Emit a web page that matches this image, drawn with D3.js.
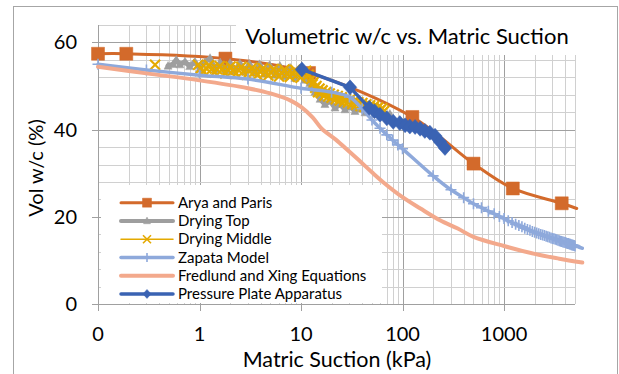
<!DOCTYPE html>
<html>
<head>
<meta charset="utf-8">
<script src="https://cdn.jsdelivr.net/npm/d3@7"></script>
<style>
  body { margin: 0; background: #fff; }
  svg { display: block; }
  text { font-family: Lato, "Open Sans", sans-serif; fill: #000; }
</style>
</head>
<body>
<div id="chart"></div>
<script>
// ---- data (kPa / vol w/c %) ----
const seriesNames = ["Arya and Paris", "Drying Top", "Drying Middle", "Zapata Model",
  "Fredlund and Xing Equations", "Pressure Plate Apparatus"];

const aryaKpa = [0.1, 0.19, 1.8, 12, 125, 500, 1220, 3700, 5200];
const aryaWc  = [57.4, 57.4, 56.3, 53.0, 42.9, 32.2, 26.5, 23.1, 21.9];

const dryTopKpa = [0.49, 0.55, 0.59, 0.64, 0.72, 0.8, 0.9, 1.0, 1.13, 1.27, 1.42, 1.6, 1.8, 2.0,
  2.2, 2.5, 2.8, 3.1, 3.5, 3.9, 4.4, 4.9, 5.5, 6.2, 6.9, 7.8, 8.7, 9.8, 10.9, 12.2, 13.7, 15.4,
  17.2, 19.3, 21.6, 24.2, 27.1, 30.4, 34, 38, 42.7, 47.8, 53.5, 59.9, 67, 75];
const dryTopWc = [54.6, 55.0, 56.0, 54.9, 55.6, 54.5, 55.6, 53.9, 55.5, 56.4, 53.8, 55.4, 53.6, 55.3,
  53.4, 55.2, 53.2, 55.1, 53.0, 55.0, 52.8, 54.8, 52.5, 54.6, 52.2, 54.2, 51.8, 53.5, 51.4, 50.6, 48.6, 47.0,
  45.8, 46.6, 45.0, 45.8, 44.6, 45.3, 44.2, 44.9, 43.9, 44.5, 43.5, 44.1, 43.2, 43.6];

const dryMidKpa = [0.365, 0.6,
  0.97, 1.03, 1.10, 1.17, 1.24, 1.32, 1.40, 1.49, 1.58, 1.68, 1.79, 1.90, 2.02, 2.15, 2.28, 2.43,
  2.58, 2.74, 2.92, 3.10, 3.30, 3.50, 3.72, 3.96, 4.21, 4.47, 4.75, 5.05, 5.37, 5.71, 6.07, 6.45,
  6.86, 7.29, 7.75, 8.24, 8.76, 9.31, 9.90, 10.5, 11.2, 11.9,
  12.6, 13.0, 13.4, 13.8, 14.2, 14.7, 15.2, 15.7, 16.3, 17, 17.7, 18.5, 19.2, 20, 21, 22, 23, 24,
  25.2, 26.5, 27.7, 29, 30.5, 32, 33.5, 35, 36.7, 38.5, 40.2, 42, 44, 46, 48, 50, 52.5, 55, 57.5, 60, 63, 66];
const dryMidWc = [54.9, null,
  54.9, 54.1, 53.2, 54.0, 54.8, 53.9, 53.1, 53.85, 54.6, 53.8, 52.9, 53.7, 54.5, 53.6, 52.8, 53.6,
  54.4, 53.5, 52.6, 53.4, 54.2, 53.4, 52.5, 53.3, 54.1, 53.2, 52.4, 53.1, 53.9, 53.1, 52.2, 53.0,
  53.8, 52.9, 52.1, 52.9, 53.7, 52.8, 51.9, 52.7, 53.5, 52.6,
  51.6, 50.4, 51.0, 49.6, 50.0, 48.6, 49.4, 48.4, 49.0, 47.8, 48.6, 47.6, 48.3, 47.3, 48.0, 47.0,
  47.7, 46.7, 47.4, 46.4, 47.1, 46.2, 46.9, 45.9, 46.6, 45.7, 46.3, 45.4, 46.1, 45.2, 45.8, 45.0,
  45.6, 44.8, 45.4, 44.6, 45.1, 44.4, 44.9, 44.3];

const zapataKpa = [0.1, 0.3, 1, 3, 10, 20, 30, 40, 50, 60, 70, 80, 90,
  100, 200, 300, 400, 500, 600, 700, 800, 900, 1000, 1100, 1200, 1300, 1400, 1500, 1600, 1700, 1800,
  1900, 2000, 2100, 2200, 2300, 2400, 2500, 2600, 2700, 2800, 2900, 3000, 3100, 3200, 3300, 3400,
  3500, 3600, 3700, 3800, 3900, 4000, 4100, 4200, 4300, 4400, 4500, 4600, 4700, 4800, 4900, 5000,
  5100, 5200, 5300, 5400, 5500, 5600, 5700, 5800, 5900];
const zapataWc = [55.0, 53.7, 52.5, 51.6, 49.5, 48.6, 47.5, 44.8, 42.2, 40.3, 38.8, 37.6, 36.5,
  35.6, 29.4, 26.2, 24.4, 23.0, 22.1, 21.3, 20.7, 20.1, 19.6, 19.1, 18.7, 18.3, 18.0, 17.7, 17.4, 17.1, 16.9,
  16.65, 16.45, 16.3, 16.1, 15.95, 15.8, 15.7, 15.55, 15.4, 15.3, 15.15, 15.05, 14.95, 14.85, 14.75, 14.6,
  14.5, 14.4, 14.35, 14.25, 14.15, 14.1, 14.0, 13.9, 13.85, 13.75, 13.7, 13.6, 13.55, 13.45, 13.4, 13.3,
  13.25, 13.2, 13.15, 13.1, 13.0, 12.95, 12.9, 12.85, 12.8];

const fredlundKpa = [0.1, 0.3, 1, 3, 5, 8, 10, 13, 16, 22, 30, 40, 50, 64, 100, 150, 234, 350, 500,
  1000, 2000, 3500, 5900];
const fredlundWc = [54.4, 52.9, 51.3, 49.5, 48.3, 46.6, 45.2, 42.8, 40.2, 37.7, 34.9, 32.3, 30.2, 28.0,
  24.5, 21.9, 19.2, 17.3, 15.4, 13.3, 11.5, 10.4, 9.5];

const plateKpa = [10.2, 30.4, 47, 53, 60, 70, 81, 94, 106, 118, 133, 149, 166, 186, 209, 234, 262];
const plateWc  = [53.8, 49.7, 45.0, 44.2, 43.4, 42.6, 41.8, 41.5, 41.0, 40.7, 40.6, 40.2, 39.7, 39.3,
  38.6, 37.2, 35.8];

const xTickValues = [0.1, 1, 10, 100, 1000];
const xTickLabels = ["0", "1", "10", "100", "1000"];
const yTickValues = [0, 20, 40, 60];

// ---- layout ----
const width = 619, height = 374;
const plot = { left: 98, right: 575, top: 25, bottom: 304 };
const colors = ["#D36A2B", "#9E9E9E", "#E4A900", "#8EA9DB", "#F3A98C", "#3A63B3"];

const x = d3.scaleLog().domain([0.1, 5000]).range([plot.left, plot.right]);
const y = d3.scaleLinear().domain([0, 64]).range([plot.bottom, plot.top]);

const svg = d3.select("#chart").append("svg")
  .attr("width", width).attr("height", height);

svg.append("rect").attr("x", 13.5).attr("y", 6.5).attr("width", 604).attr("height", 380)
  .attr("fill", "#fff").attr("stroke", "#A6A6A6");

// gridlines
const grid = svg.append("g");
const xMinor = x.ticks().filter(v => v <= 5000);
grid.selectAll(".vx").data(xMinor).join("line")
  .attr("x1", d => Math.round(x(d)) + 0.5).attr("x2", d => Math.round(x(d)) + 0.5)
  .attr("y1", plot.top).attr("y2", plot.bottom)
  .attr("stroke", d => xTickValues.includes(d) ? "#A0A0A0" : "#D0D0D0").attr("stroke-width", 1);
const yMinor = d3.range(0, 65, 4);
grid.selectAll(".hy").data(yMinor).join("line")
  .attr("x1", plot.left).attr("x2", plot.right)
  .attr("y1", d => Math.round(y(d)) + 0.5).attr("y2", d => Math.round(y(d)) + 0.5)
  .attr("stroke", d => yTickValues.includes(d) ? "#A0A0A0" : "#D0D0D0").attr("stroke-width", 1);

// title box
svg.append("rect").attr("x", 236).attr("y", 20).attr("width", 345).attr("height", 35).attr("fill", "#fff");
svg.append("text").attr("x", 407).attr("y", 44).attr("text-anchor", "middle")
  .style("font-size", "22px").text("Volumetric w/c vs. Matric Suction");

// axes
svg.append("line").attr("x1", plot.left + 0.5).attr("x2", plot.left + 0.5)
  .attr("y1", plot.top).attr("y2", plot.bottom).attr("stroke", "#A0A0A0");
svg.append("line").attr("x1", plot.left).attr("x2", plot.right)
  .attr("y1", plot.bottom + 0.5).attr("y2", plot.bottom + 0.5).attr("stroke", "#A0A0A0");
svg.selectAll(".yt").data(yTickValues).join("line")
  .attr("x1", plot.left - 6).attr("x2", plot.left)
  .attr("y1", d => Math.round(y(d)) + 0.5).attr("y2", d => Math.round(y(d)) + 0.5).attr("stroke", "#A0A0A0");
svg.selectAll(".xt").data(xTickValues).join("line")
  .attr("x1", d => Math.round(x(d)) + 0.5).attr("x2", d => Math.round(x(d)) + 0.5)
  .attr("y1", plot.bottom).attr("y2", plot.bottom + 7).attr("stroke", "#A0A0A0");

svg.selectAll(".yl").data(yTickValues).join("text")
  .attr("x", 77).attr("y", d => y(d)).attr("dy", "0.35em").attr("text-anchor", "end")
  .style("font-size", "20px").text(d => d);
svg.selectAll(".xl").data(xTickValues).join("text")
  .attr("x", d => x(d)).attr("y", 341).attr("text-anchor", "middle")
  .style("font-size", "20px").text((d, i) => xTickLabels[i]);

svg.append("text").attr("x", 337).attr("y", 367).attr("text-anchor", "middle")
  .style("font-size", "21.5px").text("Matric Suction (kPa)");
svg.append("text").attr("transform", "translate(43,168) rotate(-90)").attr("text-anchor", "middle")
  .style("font-size", "20px").text("Vol w/c (%)");

// markers
const markerPath = {
  square: s => `M${-s/2},${-s/2}h${s}v${s}h${-s}Z`,
  diamond: s => `M0,${-s/2}L${s*0.45},0L0,${s/2}L${-s*0.45},0Z`,
  triangle: s => `M0,${-s*0.55}L${s*0.5},${s*0.4}L${-s*0.5},${s*0.4}Z`,
  cross: s => `M${-s/2},${-s/2}L${s/2},${s/2}M${-s/2},${s/2}L${s/2},${-s/2}`,
  plus: s => `M0,${-s/2}V${s/2}M${-s/2},0H${s/2}`
};

const series = [
  { kpa: aryaKpa, wc: aryaWc, lw: 3, marker: "square", ms: 13, lms: 9, curve: d3.curveCatmullRom },
  { kpa: dryTopKpa, wc: dryTopWc, lw: 5, marker: "triangle", ms: 8, lms: 7, curve: d3.curveLinear },
  { kpa: dryMidKpa, wc: dryMidWc, lw: 1.5, marker: "cross", ms: 10, lms: 8, mw: 2.2, curve: d3.curveLinear },
  { kpa: zapataKpa, wc: zapataWc, lw: 3.5, marker: "plus", ms: 11, lms: 9, mw: 1.6, curve: d3.curveCatmullRom },
  { kpa: fredlundKpa, wc: fredlundWc, lw: 4, marker: null, curve: d3.curveCatmullRom },
  { kpa: plateKpa, wc: plateWc, lw: 3.5, marker: "diamond", ms: 15, lms: 9, curve: d3.curveLinear }
];

function drawMarker(g, type, size, color, mw) {
  const stroked = type === "cross" || type === "plus";
  g.append("path").attr("d", markerPath[type](size))
    .attr("fill", stroked ? "none" : color)
    .attr("stroke", color).attr("stroke-width", stroked ? (mw || 1.6) : 0.5);
}

const dataLayer = svg.append("g");
series.forEach((s, i) => {
  const pts = s.kpa.map((k, j) => [k, s.wc[j]]);
  const line = d3.line().defined(d => d[1] != null)
    .x(d => x(d[0])).y(d => y(d[1])).curve(s.curve);
  dataLayer.append("path").attr("d", line(pts)).attr("fill", "none")
    .attr("stroke", colors[i]).attr("stroke-width", s.lw)
    .attr("stroke-linejoin", "round").attr("stroke-linecap", "round");
  if (s.marker) {
    pts.filter(d => d[1] != null && d[0] <= 5000).forEach(d => {
      const g = dataLayer.append("g").attr("transform", `translate(${x(d[0])},${y(d[1])})`);
      drawMarker(g, s.marker, s.ms, colors[i], s.mw);
    });
  }
});

// legend
svg.append("rect").attr("x", 101).attr("y", 185).attr("width", 281).attr("height", 118).attr("fill", "#fff");
const legend = svg.append("g");
seriesNames.forEach((name, i) => {
  const ly = 202.7 + i * 18.25;
  const s = series[i];
  legend.append("line").attr("x1", 121).attr("x2", 173).attr("y1", ly).attr("y2", ly)
    .attr("stroke", colors[i]).attr("stroke-width", Math.min(s.lw, 4)).attr("stroke-linecap", "round");
  if (s.marker) {
    const g = legend.append("g").attr("transform", `translate(147,${ly})`);
    drawMarker(g, s.marker, s.lms, colors[i], 1.6);
  }
  legend.append("text").attr("x", 178).attr("y", ly).attr("dy", "0.35em")
    .style("font-size", "15px").text(name);
});
</script>
</body>
</html>
